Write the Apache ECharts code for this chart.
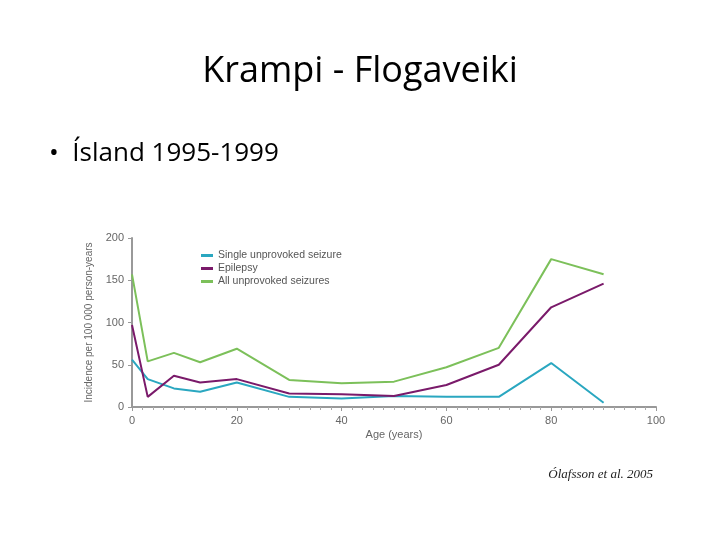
<!DOCTYPE html><html><head><meta charset="utf-8"><script src="https://cdn.jsdelivr.net/npm/echarts@6/dist/echarts.min.js"></script></head><body style="margin:0"><div id="c" style="width:720px;height:540px"></div><script>
const ages=[0,3,8,13,20,30,40,50,60,70,80,90];
const single=[56,33,22,18,29,12,10,13,12,12,52,5];
const epilepsy=[97,12,37,29,33,16,15,13,26,50,118,146];
const allSeiz=[157,54,64,53,69,32,28,30,47,70,175,157];
const pair=a=>ages.map((x,i)=>[x,a[i]]);
const ch=echarts.init(document.getElementById('c'));
const lab={color:'#666',fontSize:11,fontFamily:'Liberation Sans Narrow, Liberation Sans'};
ch.setOption({
 animation:false,
 title:[{text:'Krampi - Flogaveiki',left:'center',top:49,textStyle:{fontSize:36,fontWeight:'normal',color:'#000',fontFamily:'Open Sans, Liberation Sans'}},
  {text:'•  Ísland 1995-1999',left:44,top:136,textStyle:{fontSize:26,fontWeight:'normal',color:'#000',fontFamily:'Open Sans, Liberation Sans'}},
  {text:'Ólafsson et al. 2005',right:62,top:463,textStyle:{fontSize:13,fontWeight:'normal',fontStyle:'italic',color:'#222',fontFamily:'Liberation Serif'}}],
 legend:{left:196,top:245,orient:'vertical',itemGap:2,itemWidth:12,itemHeight:3,icon:'rect',textStyle:{...lab,fontSize:10.5,color:'#555'},data:['Single unprovoked seizure','Epilepsy','All unprovoked seizures']},
 grid:{left:132,right:64,top:238,bottom:133},
 xAxis:{type:'value',min:0,max:100,interval:20,name:'Age (years)',nameLocation:'middle',nameGap:22,nameTextStyle:lab,
  axisLine:{lineStyle:{color:'#999',width:2}},axisTick:{length:4,lineStyle:{color:'#999'}},minorTick:{show:true,splitNumber:10,length:3,lineStyle:{color:'#aaa'}},axisLabel:lab,splitLine:{show:false}},
 yAxis:{type:'value',min:0,max:200,interval:50,name:'Incidence per 100 000 person-years',nameLocation:'middle',nameGap:28,nameTextStyle:{...lab,fontSize:10},
  axisLine:{show:true,lineStyle:{color:'#999',width:2}},axisTick:{show:true,length:4,lineStyle:{color:'#999'}},axisLabel:lab,splitLine:{show:false}},
 series:[
  {name:'Single unprovoked seizure',type:'line',data:pair(single),symbol:'none',lineStyle:{color:'#2aa7c0',width:2},itemStyle:{color:'#2aa7c0'}},
  {name:'Epilepsy',type:'line',data:pair(epilepsy),symbol:'none',lineStyle:{color:'#7a1a6a',width:2},itemStyle:{color:'#7a1a6a'}},
  {name:'All unprovoked seizures',type:'line',data:pair(allSeiz),symbol:'none',lineStyle:{color:'#7cc05a',width:2},itemStyle:{color:'#7cc05a'}}
 ]});
</script></body></html>
